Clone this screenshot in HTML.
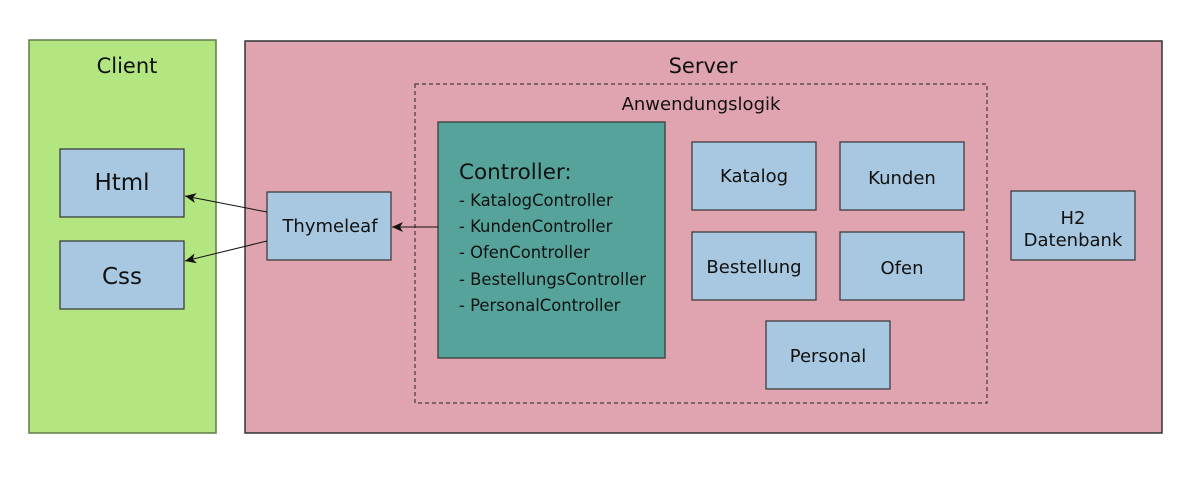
<!DOCTYPE html>
<html><head><meta charset="utf-8"><style>
body{margin:0;width:1188px;height:476px;background:#fff;overflow:hidden}
svg text{font-family:"DejaVu Sans",sans-serif;fill:#111}
</style></head><body>
<svg width="1188" height="476" viewBox="0 0 1188 476">
<defs><marker id="a" markerWidth="12" markerHeight="10" refX="11" refY="5" orient="auto" markerUnits="userSpaceOnUse"><path d="M0,0 L11,5 L0,10 L3,5 Z" fill="#111"/></marker></defs>
<rect x="29" y="40" width="187" height="393" fill="#b3e580" stroke="#5e7d48" stroke-width="1.5"/>
<text x="127" y="73" font-size="21" text-anchor="middle">Client</text>
<rect x="245" y="41" width="917" height="392" fill="#e0a4b0" stroke="#333" stroke-width="1.5"/>
<text x="703" y="73" font-size="21" text-anchor="middle">Server</text>
<rect x="415" y="84" width="572" height="319" fill="none" stroke="#222" stroke-width="1" stroke-dasharray="4,3"/>
<text x="701" y="110" font-size="18" text-anchor="middle">Anwendungslogik</text>
<rect x="438" y="122" width="227" height="236" fill="#55a39a" stroke="#333" stroke-width="1.2"/>
<text x="459" y="179" font-size="21.5">Controller:</text>
<g font-size="16.4"><text x="459" y="206">- KatalogController</text><text x="459" y="232">- KundenController</text><text x="459" y="258">- OfenController</text><text x="459" y="285">- BestellungsController</text><text x="459" y="311">- PersonalController</text></g>
<g fill="#a7c8e0" stroke="#333" stroke-width="1.2">
<rect x="60" y="149" width="124" height="68"/><rect x="60" y="241" width="124" height="68"/>
<rect x="267" y="192" width="124" height="68"/>
<rect x="692" y="142" width="124" height="68"/><rect x="840" y="142" width="124" height="68"/>
<rect x="692" y="232" width="124" height="68"/><rect x="840" y="232" width="124" height="68"/>
<rect x="766" y="321" width="124" height="68"/><rect x="1011" y="191" width="124" height="69"/>
</g>
<g font-size="18" text-anchor="middle">
<text x="122" y="190" font-size="23">Html</text><text x="122" y="284" font-size="23">Css</text>
<text x="330" y="232">Thymeleaf</text>
<text x="754" y="182">Katalog</text><text x="902" y="184">Kunden</text>
<text x="754" y="273">Bestellung</text><text x="902" y="274">Ofen</text>
<text x="828" y="362">Personal</text>
<text x="1073" y="224">H2</text><text x="1073" y="246">Datenbank</text>
</g>
<g stroke="#111" stroke-width="1">
<line x1="267" y1="212" x2="185" y2="196" marker-end="url(#a)"/>
<line x1="267" y1="241" x2="185" y2="261" marker-end="url(#a)"/>
<line x1="438" y1="227" x2="392" y2="227" marker-end="url(#a)"/>
</g>
</svg>
</body></html>
